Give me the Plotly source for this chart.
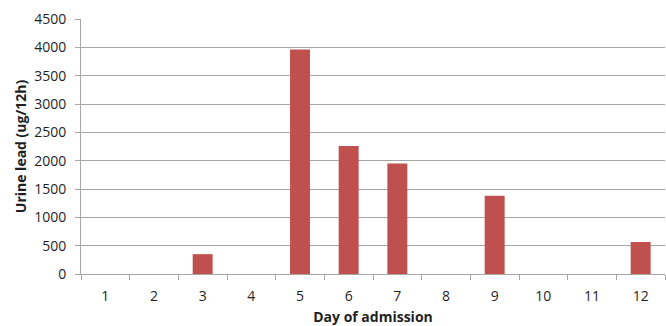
import plotly.graph_objects as go

days = [1, 2, 3, 4, 5, 6, 7, 8, 9, 10, 11, 12]
day_labels = [str(d) for d in days]
urine_lead = [0, 0, 350, 0, 3960, 2260, 1950, 0, 1380, 0, 0, 565]

fig = go.Figure(go.Bar(
    x=days, y=urine_lead, width=0.41,
    marker=dict(color="#C0504D", line=dict(width=0)),
))

font = dict(family="Open Sans, Liberation Sans, sans-serif", size=14, color="#1f1f1f")
fig.update_layout(
    width=666, height=326,
    margin=dict(l=81, r=1, t=19, b=52),
    plot_bgcolor="white", paper_bgcolor="white",
    showlegend=False, font=font,
    xaxis=dict(
        range=[0.5, 12.5], tickmode="array", tickvals=days, ticktext=day_labels,
        ticks="", showgrid=False, zeroline=False, automargin=False,
        showline=True, linecolor="#A6A6A6", linewidth=1,
        minor=dict(tickmode="array", tickvals=[d - 0.5 for d in days] + [12.5],
                   ticks="outside", ticklen=5, tickcolor="#A6A6A6", showgrid=False),
        title=dict(text="<b>Day of admission</b>", font=dict(size=14), standoff=15),
        ticklabelstandoff=9,
    ),
    yaxis=dict(
        range=[0, 4500], dtick=500, tick0=0, automargin=False,
        ticks="outside", ticklen=5, tickcolor="#A6A6A6",
        showgrid=True, gridcolor="#A6A6A6", gridwidth=1,
        zeroline=False, showline=True, linecolor="#A6A6A6", linewidth=1,
        ticklabelstandoff=6,
        title=dict(text="<b>Urine lead (ug/12h)</b>", font=dict(size=14), standoff=4),
    ),
)

fig.write_html("out.html", config={"displayModeBar": False},
               post_script="document.body.style.margin='0';document.body.style.overflow='hidden';")
